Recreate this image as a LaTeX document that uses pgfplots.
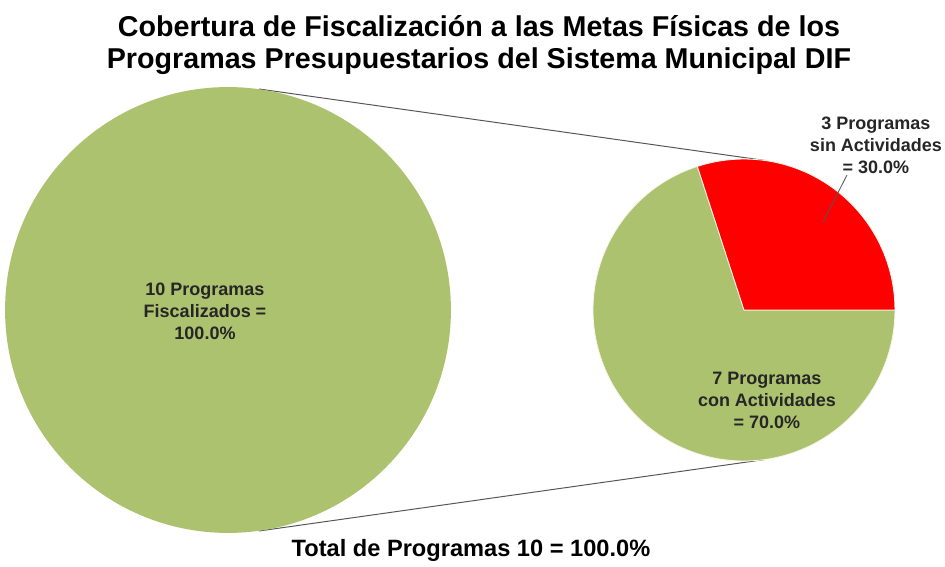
\documentclass[border=0pt]{standalone}
\usepackage{pgfplots}
\pgfplotsset{compat=1.18}
\usepackage{pgfplotstable}
\usepackage{fontspec}
\setmainfont{Liberation Sans}
\definecolor{pieGreen}{HTML}{ADC26F}
\definecolor{pieRed}{HTML}{FF0000}
\definecolor{lineGray}{HTML}{55565A}

% second pie: the split of the 10 programs
\pgfplotstableread{
slice value
sin   3
con   7
}\splitdata

\begin{document}
\begin{tikzpicture}
\pgfplotstablegetelem{0}{value}\of\splitdata \let\vsin\pgfplotsretval
\pgfplotstablegetelem{1}{value}\of\splitdata \let\vcon\pgfplotsretval
\pgfmathsetmacro{\total}{\vsin+\vcon}
\pgfmathsetmacro{\angsin}{360*\vsin/\total}
\def\u{0.025cm}
\begin{axis}[
    width=23.625cm, height=14.175cm, scale only axis,
    xmin=0, xmax=945, ymin=0, ymax=567,
    hide axis, clip=false,
  ]
  % connector lines (tangents)
  \draw[lineGray, line width=0.7pt] (axis cs:259,478) -- (axis cs:765,406.5);
  \draw[lineGray, line width=0.7pt] (axis cs:259,36) -- (axis cs:765,107.5);
  % main pie
  \fill[pieGreen] (axis cs:228,257) circle[radius=223*\u];
  % split pie
  \fill[pieGreen, draw=white!85!pieGreen, line width=0.6pt] (axis cs:744,257) -- ++(\angsin:151*\u)
      arc[start angle=\angsin, end angle=360, radius=151*\u] -- cycle;
  \fill[pieRed, draw=white!85!pieGreen, line width=0.6pt] (axis cs:744,257) -- ++(0:151*\u)
      arc[start angle=0, end angle=\angsin, radius=151*\u] -- cycle;
  % labels
  \begin{scope}[every node/.style={align=center, font=\fontsize{12.8}{15.6}\selectfont\bfseries, text=black!85}]
    \node at (axis cs:205,256) {10 Programas\\Fiscalizados =\\100.0\%};
    \node at (axis cs:876,422) {3 Programas\\sin Actividades\\= 30.0\%};
    \node at (axis cs:767,167) {7 Programas\\con Actividades\\= 70.0\%};
  \end{scope}
  \draw[lineGray, line width=0.6pt] (axis cs:847,392) -- (axis cs:823,345);
  % titles
  \node[align=center, font=\fontsize{20.4}{22.3}\selectfont\bfseries] at (axis cs:479,522)
    {Cobertura de Fiscalización a las Metas Físicas de los\\Programas Presupuestarios del Sistema Municipal DIF};
  \node[font=\fontsize{16.8}{20}\selectfont\bfseries] at (axis cs:471,17) {Total de Programas 10 = 100.0\%};
\end{axis}
\pgfresetboundingbox
\path (current axis.south west) rectangle (current axis.north east);
\end{tikzpicture}
\end{document}
